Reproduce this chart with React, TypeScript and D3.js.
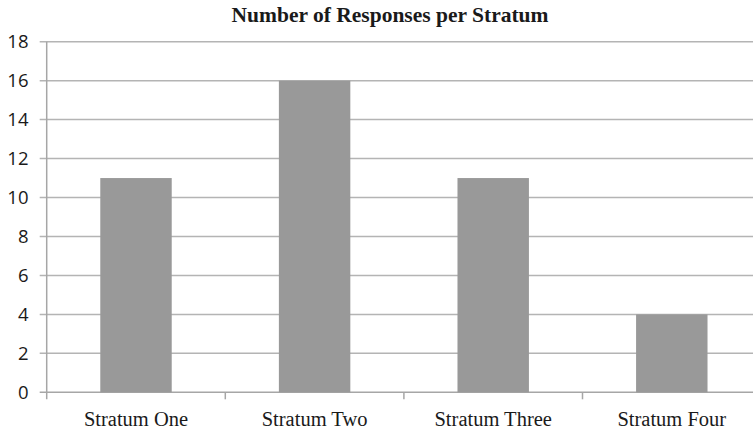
import React from "react";
import * as d3 from "d3";

const categories: string[] = ["Stratum One", "Stratum Two", "Stratum Three", "Stratum Four"];
const responses: number[] = [11, 16, 11, 4];
const yTicks: number[] = [0, 2, 4, 6, 8, 10, 12, 14, 16, 18];
const title = "Number of Responses per Stratum";

const W = 753;
const H = 431;
const left = 46.7;
const right = 761.1;
const top = 41.7;
const bottom = 392.3;

export default function App() {
  const x = d3.scaleBand<string>().domain(categories).range([left, right]).paddingInner(0.6).paddingOuter(0.3);
  const xStep = d3.scaleBand<string>().domain(categories).range([left, right]).padding(0);
  const y = d3.scaleLinear().domain([0, 18]).range([bottom, top]);
  const gridColor = "#b4b4b4";
  const axisColor = "#a6a6a6";

  return (
    <svg width={W} height={H} style={{ position: "absolute", left: 0, top: 0, background: "#fff" }}>
      <text x={390} y={21.5} textAnchor="middle" fontFamily="'Liberation Serif', 'Times New Roman', serif" fontWeight="bold" fontSize={21.5} fill="#1a1a1a">
        {title}
      </text>
      {yTicks.map((t) => (
        <g key={t}>
          <line x1={left - 7} x2={right} y1={y(t)} y2={y(t)} stroke={t === 0 ? axisColor : gridColor} strokeWidth={1.5} />
          <text x={28.5} y={y(t)} dy="0.36em" textAnchor="end" fontFamily="'Open Sans', sans-serif" fontSize={18.5} fill="#1a1a1a">
            {t}
          </text>
        </g>
      ))}
      {categories.map((c, i) => (
        <rect key={c} x={x(c)} y={y(responses[i])} width={x.bandwidth()} height={y(0) - y(responses[i])} fill="#999999" />
      ))}
      <line x1={left} x2={left} y1={top} y2={bottom + 7} stroke={axisColor} strokeWidth={1.5} />
      {categories.map((c) => (
        <line key={"t" + c} x1={(xStep(c) as number) + xStep.bandwidth()} x2={(xStep(c) as number) + xStep.bandwidth()} y1={bottom} y2={bottom + 7} stroke={axisColor} strokeWidth={1.5} />
      ))}
      {categories.map((c) => (
        <text key={"l" + c} x={(x(c) as number) + x.bandwidth() / 2} y={425.5} textAnchor="middle" fontFamily="'Liberation Serif', 'Times New Roman', serif" fontSize={20.5} fill="#1a1a1a">
          {c}
        </text>
      ))}
    </svg>
  );
}
